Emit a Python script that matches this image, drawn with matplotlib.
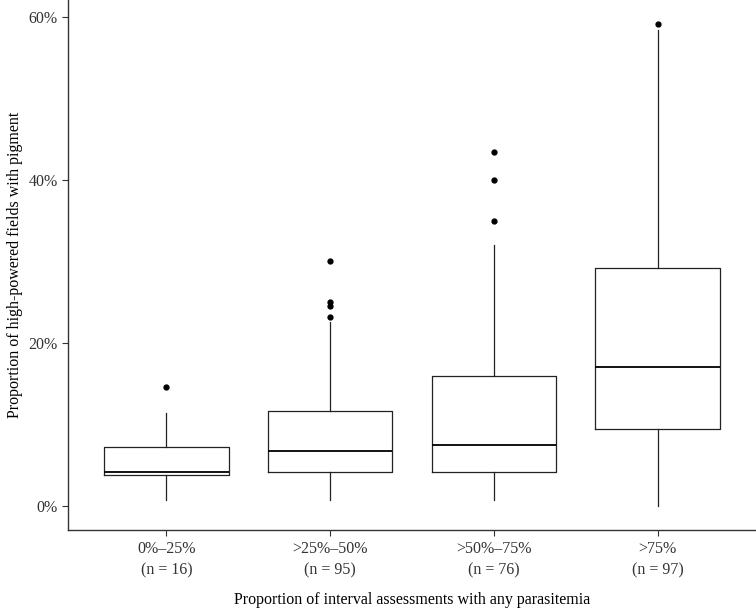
import matplotlib
matplotlib.use('Agg')
import matplotlib.pyplot as plt
from matplotlib.ticker import FuncFormatter

plt.rcParams['font.family'] = ['Liberation Serif', 'DejaVu Serif']

# Box statistics (proportion, %)
groups = ['0%–25%\n(n = 16)', '>25%–50%\n(n = 95)', '>50%–75%\n(n = 76)', '>75%\n(n = 97)']
whislo = [0.8, 0.8, 0.8, 0.0]
q1 = [3.8, 4.2, 4.2, 9.5]
med = [4.2, 6.7, 7.5, 17.1]
q3 = [7.2, 11.6, 16.0, 29.2]
whishi = [11.4, 22.6, 32.0, 58.4]
fliers = [[14.6], [23.2, 24.5, 25.0, 30.0], [35.0, 40.0, 43.4], [59.1]]

stats = []
for i in range(len(groups)):
    stats.append({'whislo': whislo[i], 'q1': q1[i], 'med': med[i], 'q3': q3[i],
                  'whishi': whishi[i], 'fliers': fliers[i], 'label': groups[i]})

fig = plt.figure(figsize=(7.56, 6.08), dpi=100)
ax = fig.add_axes([0.09, 0.128, 0.91, 0.872])

ax.bxp(stats, positions=[1, 2, 3, 4], widths=0.76, showcaps=False,
       boxprops=dict(color='#222222', linewidth=0.9),
       medianprops=dict(color='black', linewidth=1.3),
       whiskerprops=dict(color='#222222', linewidth=0.9),
       flierprops=dict(marker='o', markerfacecolor='black', markeredgecolor='black',
                       markersize=3.5))

ax.set_xlim(0.4, 4.6)
ax.set_ylim(-2.96, 62.06)
ax.set_yticks([0, 20, 40, 60])
ax.yaxis.set_major_formatter(FuncFormatter(lambda v, p: '%d%%' % v))

for s in ['top', 'right']:
    ax.spines[s].set_visible(False)
for s in ['left', 'bottom']:
    ax.spines[s].set_color('#333333')
    ax.spines[s].set_linewidth(1.0)

ax.tick_params(axis='both', colors='#333333', labelcolor='#333333', labelsize=11.5, length=4, width=0.8)
ax.set_xticklabels(groups, linespacing=1.5)
ax.set_ylabel('Proportion of high-powered fields with pigment', fontsize=11.5, color='black')
ax.set_xlabel('Proportion of interval assessments with any parasitemia', fontsize=11.5, color='black', labelpad=10)

fig.savefig('out.png', dpi=100)
